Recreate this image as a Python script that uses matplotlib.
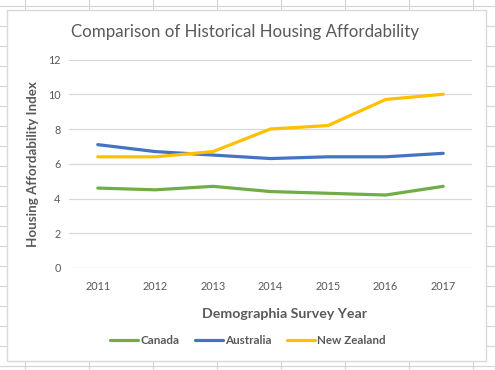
import matplotlib.pyplot as plt
from matplotlib.lines import Line2D
from matplotlib.patches import Rectangle

# Data
years = ['2011', '2012', '2013', '2014', '2015', '2016', '2017']
canada = [4.6, 4.5, 4.7, 4.4, 4.3, 4.2, 4.7]
australia = [7.1, 6.7, 6.5, 6.3, 6.4, 6.4, 6.6]
new_zealand = [6.4, 6.4, 6.7, 8.0, 8.2, 9.7, 10.0]

W, H = 495, 370
plt.rcParams['font.family'] = ['Lato', 'DejaVu Sans']
text_grey = '#595959'

fig = plt.figure(figsize=(W / 100, H / 100), dpi=100)
fig.patch.set_facecolor('white')

# spreadsheet cell lines behind the chart
for x in range(25, W, 64):
    fig.add_artist(Line2D([x / W, x / W], [0, 1], color='#d4d4d4', lw=0.8, zorder=0))
for y in range(6, H, 20):
    fig.add_artist(Line2D([0, 1], [1 - y / H, 1 - y / H], color='#d4d4d4', lw=0.8, zorder=0))

# chart box
fig.add_artist(Rectangle((7 / W, 1 - 361 / H), (486 - 7) / W, (361 - 10) / H,
                         facecolor='white', edgecolor='#d9d9d9', lw=1.0, zorder=1))

ax = fig.add_axes([69 / W, (H - 268) / H, (472 - 69) / W, (268 - 59.5) / H], zorder=2)
ax.set_facecolor('none')

xs = range(len(years))
ax.plot(xs, canada, color='#70AD47', lw=2.3, label='Canada', solid_capstyle='round')
ax.plot(xs, australia, color='#4472C4', lw=2.3, label='Australia', solid_capstyle='round')
ax.plot(xs, new_zealand, color='#FFC000', lw=2.3, label='New Zealand', solid_capstyle='round')

ax.set_xlim(-0.5, len(years) - 0.5)
ax.set_ylim(0, 12)
ax.set_yticks(range(0, 13, 2))
ax.set_xticks(list(xs))
ax.set_xticklabels(years)
ax.grid(axis='y', color='#d9d9d9', lw=0.9)
ax.set_axisbelow(True)
for s in ax.spines.values():
    s.set_visible(False)
ax.tick_params(length=0, colors=text_grey, labelsize=7.8, pad=6)
ax.tick_params(axis='x', pad=9)

fig.text(245.5 / W, 1 - 32 / H, 'Comparison of Historical Housing Affordability',
         ha='center', va='center', fontsize=12.2, color=text_grey, zorder=3)
fig.text(33 / W, 1 - 164 / H, 'Housing Affordability Index', rotation=90,
         ha='center', va='center', fontsize=9.6, fontweight='bold', color=text_grey, zorder=3)
fig.text(285 / W, 1 - 314 / H, 'Demographia Survey Year',
         ha='center', va='center', fontsize=10.2, fontweight='bold', color=text_grey, zorder=3)

leg = fig.legend(loc='center', bbox_to_anchor=(248 / W, 1 - 341 / H), ncol=3,
                 frameon=False, fontsize=8.4, handlelength=2.4, handletextpad=0.2,
                 columnspacing=1.3)
for t in leg.get_texts():
    t.set_color(text_grey)
    t.set_fontweight('bold')
leg.set_zorder(3)

fig.savefig('out.png', dpi=100)
